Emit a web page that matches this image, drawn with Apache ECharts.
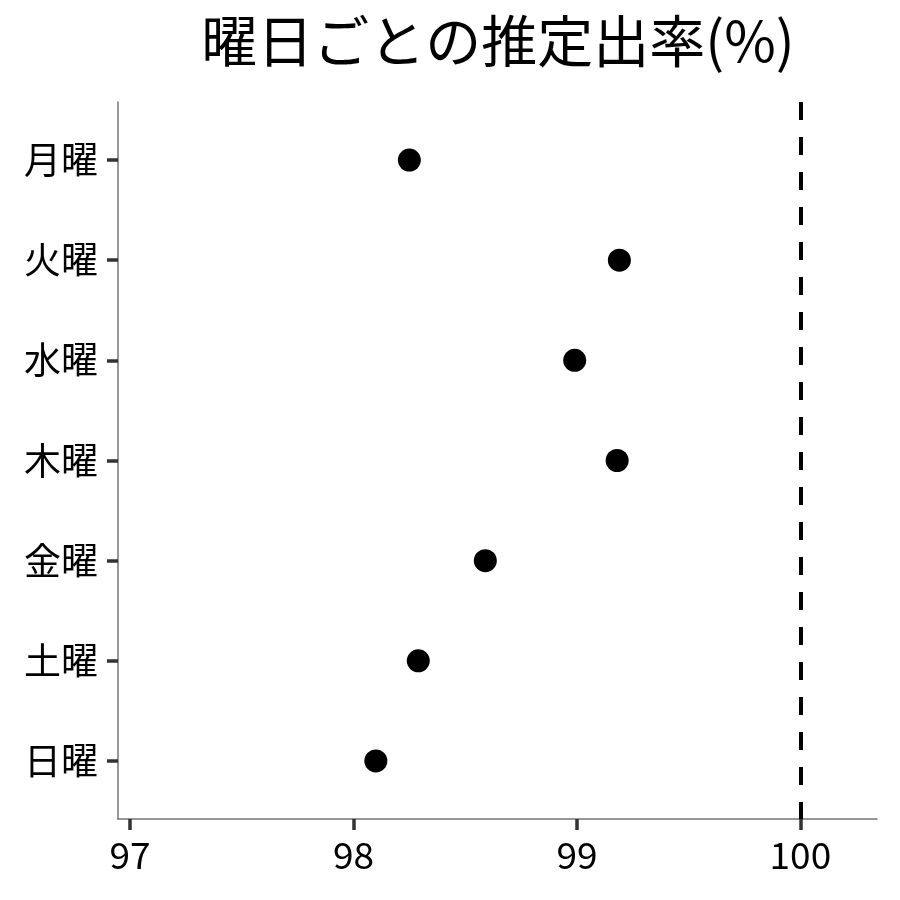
<!DOCTYPE html>
<html>
<head>
<meta charset="utf-8">
<script src="https://cdn.jsdelivr.net/npm/echarts@6/dist/echarts.min.js"></script>
<style>
  html, body { margin: 0; padding: 0; background: #fff; }
  #chart { width: 900px; height: 900px; }
</style>
</head>
<body>
<div id="chart"></div>
<script>
// 曜日ごとの推定出率
var days = ['月曜', '火曜', '水曜', '木曜', '金曜', '土曜', '日曜'];
var rates = [98.25, 99.19, 98.99, 99.18, 98.59, 98.29, 98.10];
var xTicks = [97, 98, 99, 100];
var refLine = 100;

var font = '"Noto Sans CJK JP", "Noto Sans", sans-serif';

var chart = echarts.init(document.getElementById('chart'));

var points = [];
for (var i = 0; i < days.length; i++) {
  points.push([rates[i], i + 1]);
}
var yTicks = days.map(function (d, i) { return i + 1; });

var option = {
  animation: false,
  title: {
    text: '曜日ごとの推定出率(%)',
    left: 493,
    textAlign: 'center',
    top: 8,
    textStyle: { fontFamily: font, fontSize: 56, fontWeight: 'normal', color: '#000' }
  },
  grid: { left: 118, right: 23, top: 102, bottom: 81, containLabel: false },
  xAxis: {
    type: 'value',
    min: 96.946,
    max: 100.343,
    splitLine: { show: false },
    axisLine: { show: true, onZero: false, lineStyle: { color: '#777', width: 1.5 } },
    axisTick: { show: true, customValues: xTicks, length: 11, lineStyle: { color: '#333', width: 3.5 } },
    axisLabel: {
      customValues: xTicks,
      margin: 17,
      fontFamily: font, fontSize: 37, color: '#000'
    }
  },
  yAxis: {
    type: 'value',
    inverse: true,
    min: 0.42,
    max: 7.58,
    splitLine: { show: false },
    axisLine: { show: true, onZero: false, lineStyle: { color: '#777', width: 1.5 } },
    axisTick: { show: true, customValues: yTicks, length: 11, lineStyle: { color: '#333', width: 3.5 } },
    axisLabel: {
      customValues: yTicks,
      margin: 20,
      fontFamily: font, fontSize: 37, color: '#000',
      formatter: function (v) { return days[Math.round(v) - 1]; }
    }
  },
  series: [{
    type: 'scatter',
    data: points,
    symbol: 'circle',
    symbolSize: 23,
    itemStyle: { color: '#000', opacity: 1 },
    markLine: {
      silent: true,
      symbol: 'none',
      label: { show: false },
      lineStyle: { color: '#000', width: 4, type: [18, 17], opacity: 1 },
      data: [{ xAxis: refLine }]
    }
  }]
};

chart.setOption(option);
</script>
</body>
</html>
